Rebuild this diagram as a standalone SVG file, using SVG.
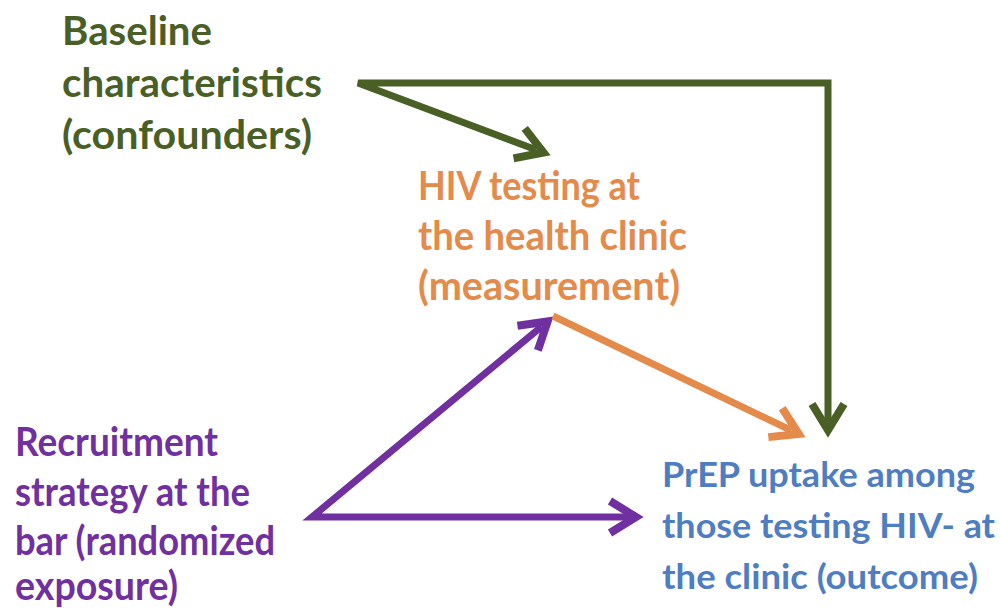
<svg xmlns="http://www.w3.org/2000/svg" width="1000" height="608" viewBox="0 0 1000 608">
  <style>
    text { font-family: Lato, "Open Sans", "Liberation Sans", sans-serif; font-weight: bold; font-size: 40px; }
    .g { fill: #4A5F26; }
    .o { fill: #E48A4A; }
    .p { fill: #7030A0; }
    .b { fill: #4F7DC2; font-size: 35px; }
    .edge { fill: none; stroke-width: 7; stroke-linejoin: miter; }
  </style>
  <defs>
    <marker id="ah-g" markerUnits="userSpaceOnUse" viewBox="-30 -25 50 50" markerWidth="50" markerHeight="50" refX="0" refY="0" orient="auto-start-reverse" overflow="visible">
      <path d="M-18,-16 L8,0 L-18,16" fill="none" stroke="#4A5F26" stroke-width="8"/>
    </marker>
    <marker id="ah-o" markerUnits="userSpaceOnUse" viewBox="-30 -25 50 50" markerWidth="50" markerHeight="50" refX="0" refY="0" orient="auto-start-reverse" overflow="visible">
      <path d="M-18,-16 L8,0 L-18,16" fill="none" stroke="#E48A4A" stroke-width="8"/>
    </marker>
    <marker id="ah-p" markerUnits="userSpaceOnUse" viewBox="-30 -25 50 50" markerWidth="50" markerHeight="50" refX="0" refY="0" orient="auto-start-reverse" overflow="visible">
      <path d="M-18,-16 L8,0 L-18,16" fill="none" stroke="#7030A0" stroke-width="8"/>
    </marker>
  </defs>
  <rect width="1000" height="608" fill="#FFFFFF"/>

  <g id="connectors">
    <path class="edge" stroke="#4A5F26" d="M536,149.7 L358,83 L828,83 L828,422" marker-start="url(#ah-g)" marker-end="url(#ah-g)"/>
    <path class="edge" stroke="#7030A0" d="M541.5,326.6 L312,517 L628,517" marker-start="url(#ah-p)" marker-end="url(#ah-p)"/>
    <path class="edge" stroke="#E48A4A" d="M553,316 L791.5,430.5" marker-end="url(#ah-o)"/>
  </g>

  <g id="node-baseline">
    <text class="g" x="62" y="45" textLength="150" lengthAdjust="spacingAndGlyphs">Baseline</text>
    <text class="g" x="62" y="97" textLength="260" lengthAdjust="spacingAndGlyphs">characteristics</text>
    <text class="g" x="62" y="149" textLength="250" lengthAdjust="spacingAndGlyphs">(confounders)</text>
  </g>

  <g id="node-hiv-testing">
    <text class="o" x="418" y="200" textLength="222" lengthAdjust="spacingAndGlyphs">HIV testing at</text>
    <text class="o" x="418" y="250" textLength="269" lengthAdjust="spacingAndGlyphs">the health clinic</text>
    <text class="o" x="418" y="300" textLength="262" lengthAdjust="spacingAndGlyphs">(measurement)</text>
  </g>

  <g id="node-recruitment">
    <text class="p" x="15" y="456" textLength="203" lengthAdjust="spacingAndGlyphs">Recruitment</text>
    <text class="p" x="15" y="506" textLength="235" lengthAdjust="spacingAndGlyphs">strategy at the</text>
    <text class="p" x="15" y="555" textLength="260" lengthAdjust="spacingAndGlyphs">bar (randomized</text>
    <text class="p" x="15" y="600" textLength="163" lengthAdjust="spacingAndGlyphs">exposure)</text>
  </g>

  <g id="node-prep">
    <text class="b" x="662" y="487" textLength="313" lengthAdjust="spacingAndGlyphs">PrEP uptake among</text>
    <text class="b" x="662" y="538" textLength="333" lengthAdjust="spacingAndGlyphs">those testing HIV- at</text>
    <text class="b" x="662" y="589" textLength="316" lengthAdjust="spacingAndGlyphs">the clinic (outcome)</text>
  </g>
</svg>
